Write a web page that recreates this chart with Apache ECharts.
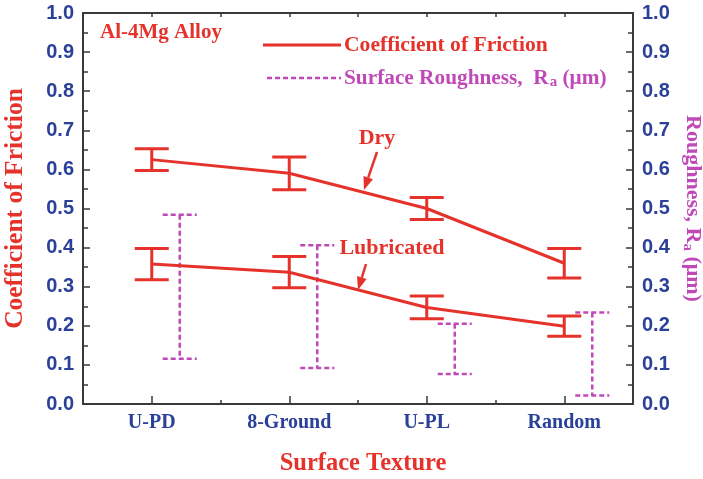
<!DOCTYPE html>
<html>
<head>
<meta charset="utf-8">
<script src="https://cdn.jsdelivr.net/npm/echarts@6/dist/echarts.min.js"></script>
<style>
  html, body { margin: 0; padding: 0; background: #ffffff; }
  #chart { width: 703px; height: 479px; }
</style>
</head>
<body>
<div id="chart"></div>
<script>
// Surface textures tested
const categories = ['U-PD', '8-Ground', 'U-PL', 'Random'];

// Coefficient of friction, dry sliding (mean and error)
const dryMean = [0.625, 0.590, 0.500, 0.360];
const dryErr  = [0.028, 0.042, 0.028, 0.038];

// Coefficient of friction, lubricated sliding (mean and error)
const lubMean = [0.358, 0.337, 0.247, 0.199];
const lubErr  = [0.040, 0.040, 0.029, 0.026];

// Surface roughness Ra in micrometres (mean and error)
const raMean = [0.300, 0.249, 0.141, 0.128];
const raErr  = [0.184, 0.157, 0.064, 0.106];

// Axis ticks
const yMin = 0, yMax = 1, yStep = 0.1;

const RED = '#e5322b';
const MAGENTA = '#c049b8';
const NAVY = '#2b4199';
const AXIS = '#3a3a3a';
const SERIF = '"Liberation Serif", "Times New Roman", serif';
const SANS = '"Liberation Sans", Arial, sans-serif';

function barData(mean, err) {
  return mean.map((m, i) => [i, m + err[i], m - err[i]]);
}

// Error bar with caps; offsetX shifts it sideways from the category centre
function errorBar(offsetX, color, width, dash) {
  return function (params, api) {
    const i = api.value(0);
    const hi = api.coord([i, api.value(1)]);
    const lo = api.coord([i, api.value(2)]);
    const x = hi[0] + offsetX;
    const half = 17;
    const style = { stroke: color, lineWidth: width, fill: null, lineDash: dash };
    return {
      type: 'group',
      children: [
        { type: 'line', shape: { x1: x, y1: hi[1], x2: x, y2: lo[1] }, style: style },
        { type: 'line', shape: { x1: x - half, y1: hi[1], x2: x + half, y2: hi[1] }, style: style },
        { type: 'line', shape: { x1: x - half, y1: lo[1], x2: x + half, y2: lo[1] }, style: style }
      ]
    };
  };
}

// Straight arrow with a filled head at (x2, y2)
function arrow(x1, y1, x2, y2, color) {
  const dx = x2 - x1, dy = y2 - y1;
  const len = Math.sqrt(dx * dx + dy * dy);
  const ux = dx / len, uy = dy / len;
  const headL = 13, headW = 5;
  const bx = x2 - ux * headL, by = y2 - uy * headL;
  return {
    type: 'group',
    children: [
      { type: 'line', shape: { x1: x1, y1: y1, x2: bx, y2: by }, style: { stroke: color, lineWidth: 2.5 } },
      {
        type: 'polygon',
        shape: { points: [[x2, y2], [bx - uy * headW, by + ux * headW], [bx + uy * headW, by - ux * headW]] },
        style: { fill: color }
      }
    ]
  };
}

const axisLineStyle = { color: AXIS, width: 2 };

function catAxis(position, alignWithLabel, length, showLine, extra) {
  return Object.assign({
    type: 'category',
    data: categories,
    position: position,
    boundaryGap: true,
    axisLine: { show: showLine, onZero: false, lineStyle: axisLineStyle },
    axisTick: { show: true, inside: true, alignWithLabel: alignWithLabel, length: length, lineStyle: { color: AXIS, width: 1.5 } },
    axisLabel: { show: false },
    splitLine: { show: false }
  }, extra || {});
}

function valueAxis(position, extra) {
  return Object.assign({
    type: 'value',
    min: yMin,
    max: yMax,
    interval: yStep,
    position: position,
    axisLine: { show: true, onZero: false, lineStyle: axisLineStyle },
    axisTick: { show: true, inside: true, length: 7, lineStyle: { color: AXIS, width: 1.5 } },
    minorTick: { show: true, splitNumber: 2, length: 5, lineStyle: { color: AXIS, width: 1.5 } },
    splitLine: { show: false },
    axisLabel: {
      formatter: v => v.toFixed(1),
      fontFamily: SANS, fontWeight: 'bold', fontSize: 20, color: NAVY, margin: 9
    }
  }, extra || {});
}

const chart = echarts.init(document.getElementById('chart'), null, { renderer: 'canvas' });

chart.setOption({
  backgroundColor: '#ffffff',
  animation: false,
  grid: { left: 83, right: 70, top: 13, bottom: 75, containLabel: false, outerBoundsMode: 'none' },
  xAxis: [
    catAxis('bottom', true, 8, true, {
      axisLabel: { show: true, fontFamily: SERIF, fontWeight: 'bold', fontSize: 20, color: NAVY, margin: 9 },
      name: 'Surface Texture',
      nameLocation: 'middle',
      nameGap: 47,
      nameTextStyle: { fontFamily: SERIF, fontWeight: 'bold', fontSize: 24.5, color: RED, padding: [0, 0, 0, 10] }
    }),
    catAxis('bottom', false, 4, false),
    catAxis('top', true, 4, true),
    catAxis('top', false, 4, false)
  ],
  yAxis: [
    valueAxis('left', {
      name: 'Coefficient of Friction',
      nameLocation: 'middle',
      nameGap: 55,
      nameRotate: 90,
      nameTextStyle: { fontFamily: SERIF, fontWeight: 'bold', fontSize: 25.5, color: RED }
    }),
    valueAxis('right', {
      name: '{t|Roughness, R}{s|a}{t| (μm)}',
      nameLocation: 'middle',
      nameGap: 47,
      nameRotate: -90,
      nameTextStyle: {
        fontFamily: SERIF, fontWeight: 'bold', fontSize: 22, color: MAGENTA,
        rich: {
          t: { fontFamily: SERIF, fontWeight: 'bold', fontSize: 22, color: MAGENTA },
          s: { fontFamily: SERIF, fontWeight: 'bold', fontSize: 15, color: MAGENTA, padding: [8, 0, 0, 0] }
        }
      }
    })
  ],
  series: [
    {
      name: 'Surface Roughness',
      type: 'custom',
      xAxisIndex: 0, yAxisIndex: 1,
      renderItem: errorBar(28, MAGENTA, 2.5, [5, 3]),
      encode: { x: 0, y: [1, 2] },
      data: barData(raMean, raErr),
      z: 2
    },
    {
      name: 'Dry error',
      type: 'custom',
      xAxisIndex: 0, yAxisIndex: 0,
      renderItem: errorBar(0, RED, 3, null),
      encode: { x: 0, y: [1, 2] },
      data: barData(dryMean, dryErr),
      z: 3
    },
    {
      name: 'Lubricated error',
      type: 'custom',
      xAxisIndex: 0, yAxisIndex: 0,
      renderItem: errorBar(0, RED, 3, null),
      encode: { x: 0, y: [1, 2] },
      data: barData(lubMean, lubErr),
      z: 3
    },
    {
      name: 'Dry',
      type: 'line',
      xAxisIndex: 0, yAxisIndex: 0,
      data: dryMean,
      symbol: 'none',
      lineStyle: { color: RED, width: 3 },
      z: 4
    },
    {
      name: 'Lubricated',
      type: 'line',
      xAxisIndex: 0, yAxisIndex: 0,
      data: lubMean,
      symbol: 'none',
      lineStyle: { color: RED, width: 3 },
      z: 4
    }
  ],
  graphic: [
    {
      type: 'text', left: 100, top: 22,
      style: { text: 'Al-4Mg Alloy', fontFamily: SERIF, fontWeight: 'bold', fontSize: 21, fill: RED }
    },
    { type: 'line', shape: { x1: 263, y1: 45, x2: 341, y2: 45 }, style: { stroke: RED, lineWidth: 3 } },
    {
      type: 'text', x: 344, y: 45,
      style: {
        text: 'Coefficient of Friction', fontFamily: SERIF, fontWeight: 'bold', fontSize: 21.6,
        fill: RED, verticalAlign: 'middle', textAlign: 'left'
      }
    },
    { type: 'line', shape: { x1: 267, y1: 78, x2: 341, y2: 78 }, style: { stroke: MAGENTA, lineWidth: 2.5, lineDash: [5, 3] } },
    {
      type: 'text', x: 344, y: 78,
      style: {
        text: '{t|Surface Roughness,  R}{s|a}{t| (μm)}',
        verticalAlign: 'middle', textAlign: 'left',
        rich: {
          t: { fontFamily: SERIF, fontWeight: 'bold', fontSize: 21.3, fill: MAGENTA },
          s: { fontFamily: SERIF, fontWeight: 'bold', fontSize: 15, fill: MAGENTA, padding: [9, 0, 0, 1] }
        }
      }
    },
    {
      type: 'text', x: 377, y: 138,
      style: { text: 'Dry', fontFamily: SERIF, fontWeight: 'bold', fontSize: 22, fill: RED, textAlign: 'center', verticalAlign: 'middle' }
    },
    arrow(377, 152, 364, 190, RED),
    {
      type: 'text', x: 392, y: 248,
      style: { text: 'Lubricated', fontFamily: SERIF, fontWeight: 'bold', fontSize: 22, fill: RED, textAlign: 'center', verticalAlign: 'middle' }
    },
    arrow(366, 264, 358, 290, RED)
  ]
});
</script>
</body>
</html>
